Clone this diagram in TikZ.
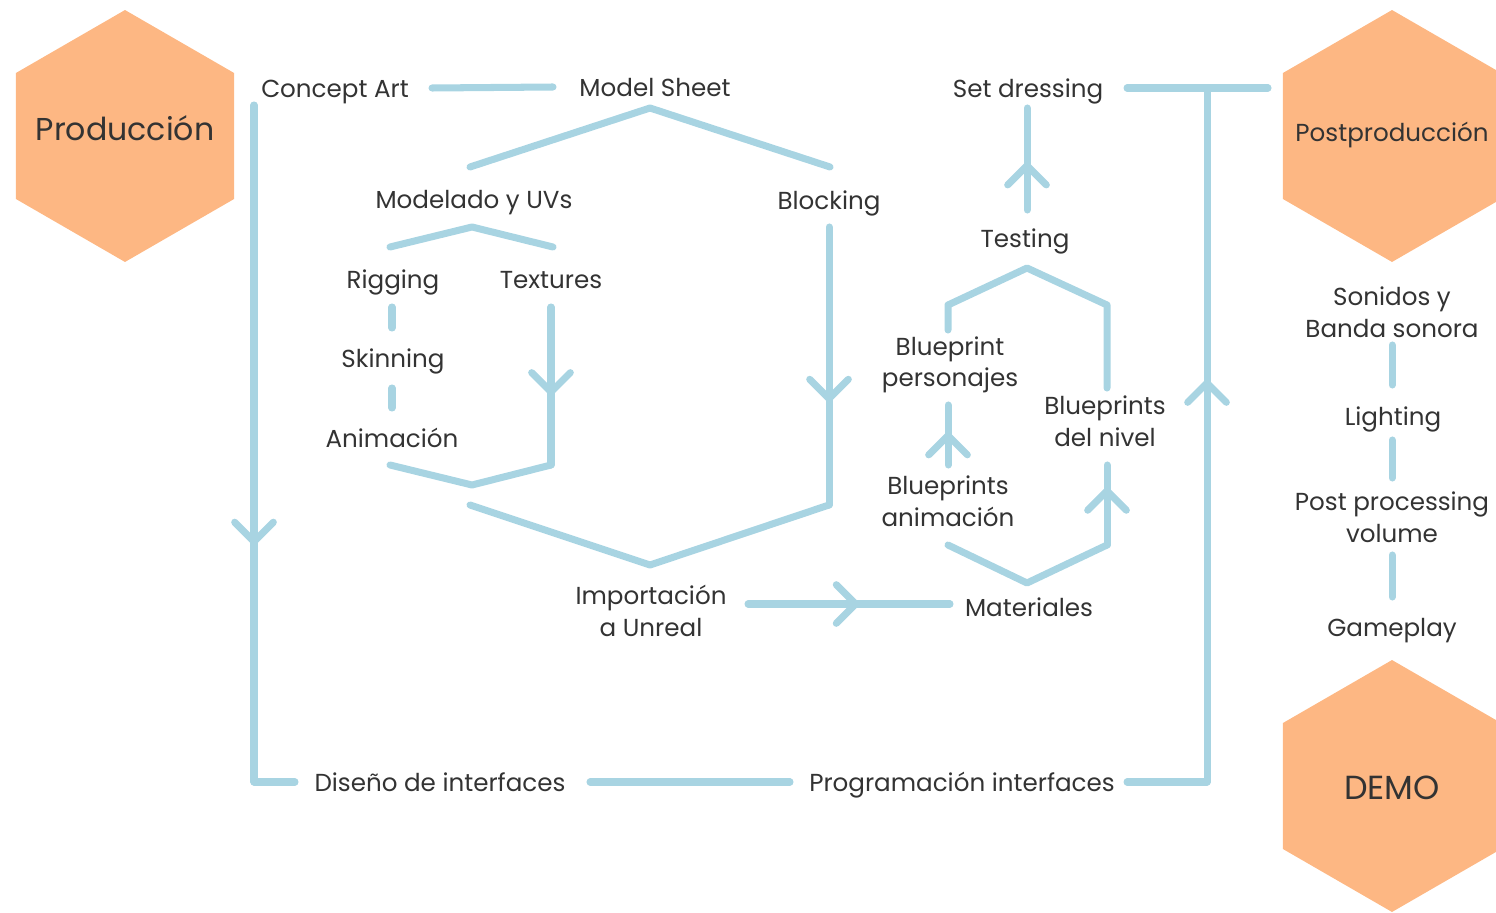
\documentclass[tikz,border=0pt]{standalone}
\usepackage{fontspec}
\setmainfont{Poppins}
\usetikzlibrary{arrows.meta,positioning,calc,shapes.geometric,decorations.markings}
\definecolor{hxorange}{RGB}{253,183,131}
\definecolor{hxblue}{RGB}{168,212,226}
\definecolor{hxtext}{RGB}{51,51,51}
\tikzset{
  pasolargo/.style={font=\fontsize{14}{18}\selectfont, text=hxtext, inner sep=0pt, align=center},
  paso/.style={pasolargo, text height=11pt, text depth=0pt},
  fase/.style={regular polygon, regular polygon sides=6, shape border rotate=90,
    fill=hxorange, minimum size=5.04cm, inner sep=0pt},
  conn/.style={draw=hxblue, line width=4pt, line cap=round, line join=round},
  flecha/.style={postaction={decorate, decoration={markings,
    mark=at position #1 with {\arrow{Straight Barb[round, length=11pt, width=22pt]}}}}},
}

\begin{document}
\begin{tikzpicture}[x=0.02cm, y=-0.02cm]
\useasboundingbox (0,0) rectangle (1496,912);
% phases
\node[fase] (prod) at (125,136) {};
\node[fase] (post) at (1392,136) {};
\node[fase] (demo) at (1392,786) {};
\node[paso, font=\fontsize{18}{22}\selectfont] (prodtxt) at (125,131) {Producción};
\node[paso] (posttxt) at (1392,132) {Postproducción};
\node[paso, font=\fontsize{19}{22}\selectfont] (demotxt) at (1392,790) {DEMO};
% tasks
\node[paso] (concept) at (335,88) {Concept Art};
\node[paso] (sheet) at (655,87) {Model Sheet};
\node[paso] (dressing) at (1028,88) {Set dressing};
\node[paso] (modelado) at (474,199) {Modelado y UVs};
\node[paso] (blocking) at (829,200) {Blocking};
\node[paso] (testing) at (1025,238) {Testing};
\node[paso] (rigging) at (393,279) {Rigging};
\node[paso] (textures) at (551,279) {Textures};
\node[paso] (skinning) at (393,358) {Skinning};
\node[paso] (animacion) at (392,438) {Animación};
\node[pasolargo] (bppers) at (950,365) {Blueprint\\personajes};
\node[pasolargo] (bpnivel) at (1105,421) {Blueprints\\del nivel};
\node[pasolargo] (bpanim) at (948,501) {Blueprints\\animación};
\node[pasolargo] (importacion) at (651,611) {Importación\\a Unreal};
\node[paso] (materiales) at (1029,607) {Materiales};
\node[paso] (diseno) at (440,782) {Diseño de interfaces};
\node[paso] (programacion) at (962,782) {Programación interfaces};
\node[pasolargo] (sonidos) at (1392,312) {Sonidos y\\Banda sonora};
\node[paso] (lighting) at (1393,416) {Lighting};
\node[pasolargo] (postvol) at (1392,517) {Post processing\\volume};
\node[paso] (gameplay) at (1392,627) {Gameplay};
% bends
\coordinate (sheetroof) at (650,108);
\coordinate (texcorner) at (551,465);
\coordinate (animvee) at (472,485);
\coordinate (blkcorner) at (829,505);
\coordinate (bigleft) at (470,505);
\coordinate (matleft) at (948,545);
\coordinate (matright) at (1107,545);
\coordinate (bpleft) at (948,305);
\coordinate (bpright) at (1107,305);
\coordinate (junction) at (1207,88);
\coordinate (progcorner) at (1207,782);
\coordinate (leftcorner) at (254,782);
% model sheet branch
\draw[conn] ($(concept)+(97,0)$) -- ($(sheet)+(-102,0)$);
\draw[conn] ($(modelado)+(-4,-32)$) -- (sheetroof) -- ($(blocking)+(1,-33)$);
\draw[conn] ($(rigging)+(-3,-32)$) -- ($(modelado)+(-2,28)$) -- ($(textures)+(2,-32)$);
\draw[conn] ($(rigging)+(-1,28)$) -- ($(skinning)+(-1,-30)$);
\draw[conn] ($(skinning)+(-1,30)$) -- ($(animacion)+(0,-30)$);
\draw[conn, flecha=0.56] ($(textures)+(0,28)$) -- (texcorner);
\draw[conn] (texcorner) -- (animvee) -- ($(animacion)+(-2,27)$);
\draw[conn, flecha=0.63] ($(blocking)+(0,27)$) -- (blkcorner);
\draw[conn] (blkcorner) -- ($(importacion)+(-1,-46)$) -- (bigleft);
% unreal
\draw[conn, flecha=0.55] ($(importacion)+(97,-7)$) -- ($(materiales)+(-79,-3)$);
\draw[conn] (matleft) -- ($(materiales)+(-2,-24)$) -- (matright);
\draw[conn, flecha=0.72] (matright) -- ($(bpnivel)+(2,44)$);
\draw[conn, flecha=0.55] ($(bpanim)+(0,-36)$) -- ($(bppers)+(-2,40)$);
\draw[conn] ($(bppers)+(-2,-35)$) -- (bpleft) -- ($(testing)+(2,30)$) -- (bpright) -- ($(bpnivel)+(2,-33)$);
\draw[conn, flecha=0.47] ($(testing)+(2,-28)$) -- ($(dressing)+(-1,20)$);
% interfaces loop
\draw[conn] ($(dressing)+(99,0)$) -- ($(post)+(-124,-48)$);
\draw[conn] ($(programacion)+(165,0)$) -- (progcorner);
\draw[conn, flecha=0.58] (progcorner) -- (junction);
\draw[conn] ($(diseno)+(150,0)$) -- ($(programacion)+(-172,0)$);
\draw[conn, flecha=0.65] ($(concept)+(-81,17)$) -- (leftcorner);
\draw[conn] (leftcorner) -- ($(diseno)+(-145,0)$);
% postproduction column
\draw[conn] ($(sonidos)+(0,33)$) -- ($(lighting)+(-1,-31)$);
\draw[conn] ($(lighting)+(-1,24)$) -- ($(postvol)+(0,-39)$);
\draw[conn] ($(postvol)+(0,38)$) -- ($(gameplay)+(0,-30)$);
\end{tikzpicture}
\end{document}
